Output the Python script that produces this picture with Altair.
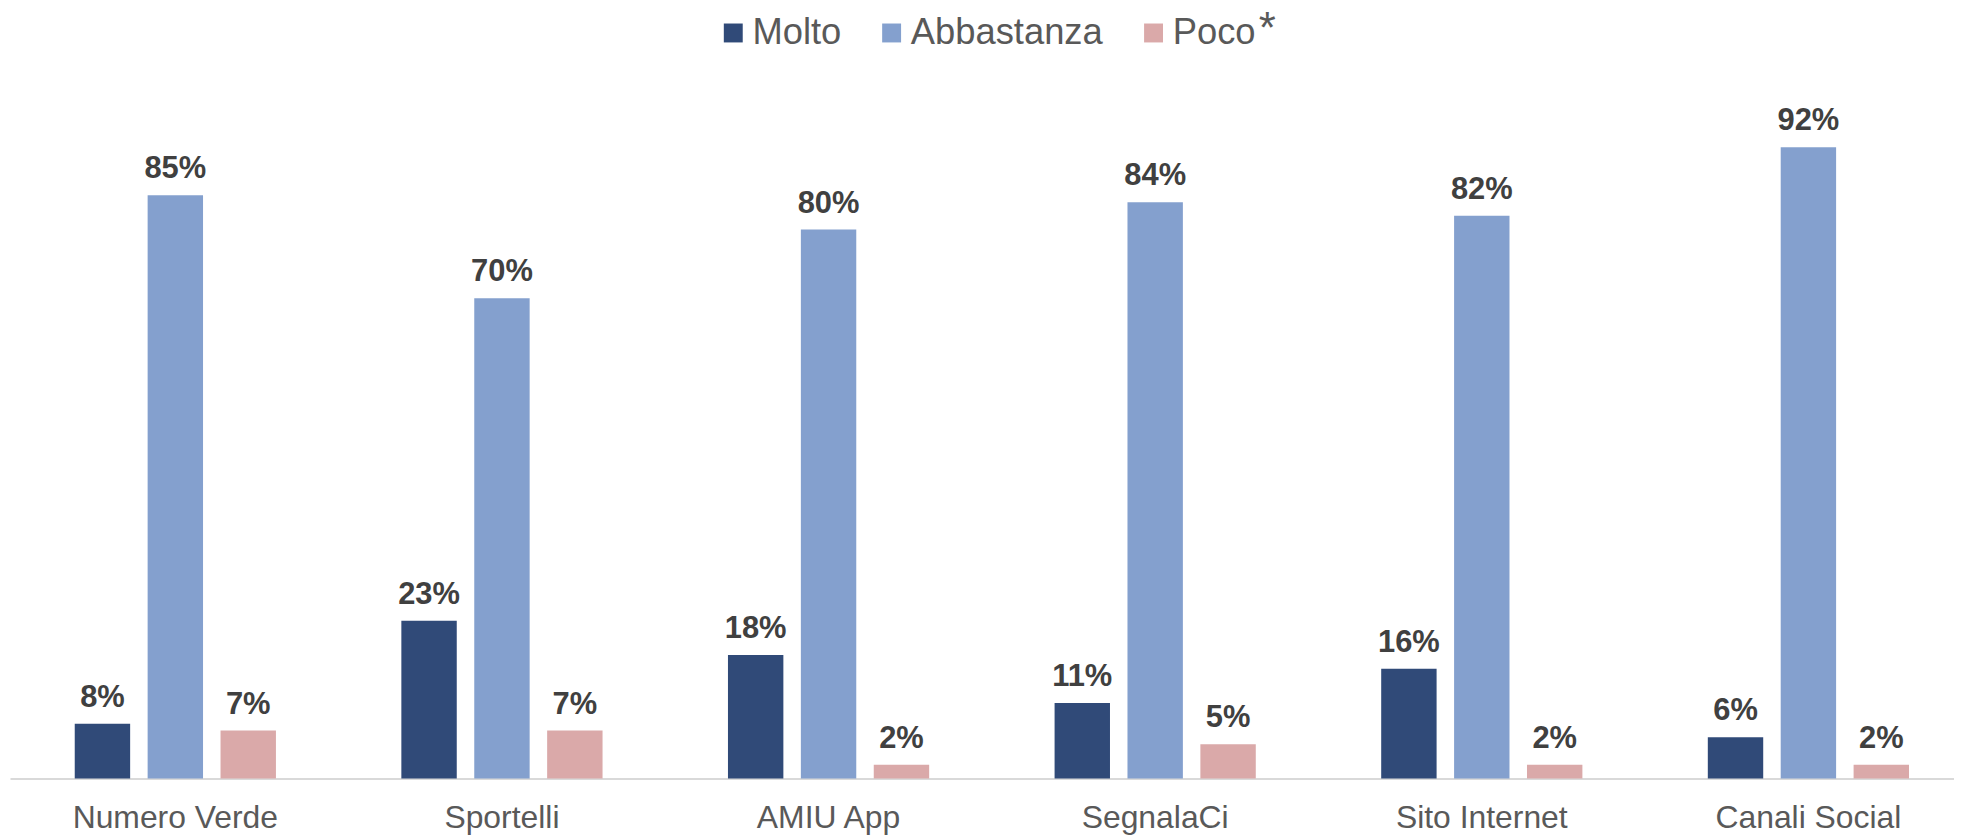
import altair as alt
import pandas as pd

categories = ["Numero Verde", "Sportelli", "AMIU App", "SegnalaCi", "Sito Internet", "Canali Social"]
series = ["Molto", "Abbastanza", "Poco"]
molto = [8, 23, 18, 11, 16, 6]
abbastanza = [85, 70, 80, 84, 82, 92]
poco = [7, 7, 2, 5, 2, 2]
colors = ["#304a78", "#84a0ce", "#daa9a9"]

rows = []
for i, c in enumerate(categories):
    for s, vals in zip(series, [molto, abbastanza, poco]):
        rows.append({"cat": c, "serie": s, "val": vals[i], "lbl": f"{vals[i]}%"})
df = pd.DataFrame(rows)

x = alt.X("cat:N", sort=categories, title=None,
          scale=alt.Scale(paddingInner=0.384, paddingOuter=0.168, align=0.59),
          axis=alt.Axis(labelAngle=0, ticks=False, labelPadding=24, labelFontSize=32,
                        labelLimit=400, labelColor="#595959", labelFont="Liberation Sans",
                        domainColor="#d9d9d9", domainWidth=2, grid=False))
xoff = alt.XOffset("serie:N", sort=series, scale=alt.Scale(paddingInner=0.24, paddingOuter=0))
y = alt.Y("val:Q", scale=alt.Scale(domain=[0, 100]), axis=None)

bars = alt.Chart(df).mark_bar().encode(
    x=x, xOffset=xoff, y=y,
    color=alt.Color("serie:N", sort=series,
                    scale=alt.Scale(domain=series, range=colors),
                    legend=alt.Legend(title=None, orient="none", direction="horizontal",
                                      legendX=708, legendY=-78,
                                      symbolType="square", symbolSize=361,
                                      symbolStrokeWidth=0, labelFontSize=36.5,
                                      labelFont="Liberation Sans", labelColor="#595959",
                                      labelOffset=1, columnPadding=32,
                                      labelLimit=400)),
)

labels = alt.Chart(df).mark_text(baseline="alphabetic", dy=-17, fontSize=31,
                                 fontWeight="bold", font="Liberation Sans",
                                 color="#404040").encode(
    x=x, xOffset=xoff, y=y, text="lbl:N")

star = alt.Chart(pd.DataFrame({"t": ["*"]})).mark_text(
    fontSize=44, font="Liberation Sans", color="#595959", align="left",
    baseline="alphabetic").encode(
    text="t:N", x=alt.value(1254), y=alt.value(-50))

chart = alt.layer(bars, labels, star).properties(
    width=1952, height=689,
    autosize=alt.AutoSizeParams(type="none"),
    padding={"left": 2, "right": 0, "top": 83, "bottom": 56},
).configure_view(stroke=None)

chart.save("out.html", embed_options={"renderer": "svg", "actions": False})
